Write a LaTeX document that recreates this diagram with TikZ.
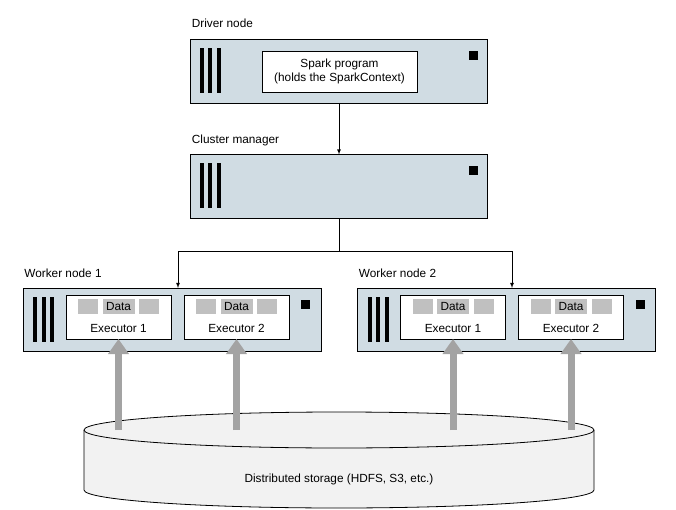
\documentclass[tikz,border=0pt]{standalone}
\usepackage{fontspec}
\setmainfont{Liberation Sans}
\usetikzlibrary{shapes,arrows,arrows.meta,calc,positioning,backgrounds}
\definecolor{boxblue}{RGB}{208,220,227}
\definecolor{datagray}{RGB}{192,192,192}
\definecolor{feedgray}{RGB}{163,163,163}
\definecolor{diskgray}{RGB}{242,242,242}

\begin{document}
\begin{tikzpicture}[x=1pt,y=-1pt,line width=0.8pt,
  every node/.style={font=\fontsize{11.8}{14.5}\selectfont},
  machine/.style={draw,rectangle,fill=boxblue,minimum width=297pt,minimum height=64pt,inner sep=0pt,outer sep=0pt},
  worker/.style={machine,minimum width=298pt,minimum height=63pt},
  exec/.style={draw,rectangle,fill=white,minimum width=105pt,minimum height=44pt,inner sep=0pt,outer sep=0pt},
  chip/.style={fill=datagray,minimum width=20pt,minimum height=15pt,inner sep=0pt,outer sep=0pt,node distance=4.5pt},
  lbl/.style={anchor=base west,inner sep=0pt},
  feed/.style={draw=feedgray,line width=7pt,-{Triangle[width=20pt,length=15pt]}}]

        \useasboundingbox (0,0) rectangle (676,510);

        \node[machine] (D) at (339,71) {};
        \node[machine] (C) at (339,186.5) {};
        \node[worker] (W1) at (172,319.5) {};
        \node[worker] (W2) at (506.5,319.5) {};

        \node[lbl] (DL) at ($(D.north west)+(1,-11)$) {Driver node};
        \node[lbl] (CL) at ($(C.north west)+(1,-11)$) {Cluster manager};
        \node[lbl] (W1L) at ($(W1.north west)+(1,-11)$) {Worker node 1};
        \node[lbl] (W2L) at ($(W2.north west)+(1,-11)$) {Worker node 2};

        \node[draw,fill=white,minimum width=155pt,minimum height=41pt,inner sep=0pt,align=center] (P) at (339.5,71.5)
          {Spark program\\(holds the SparkContext)};

        % rack bars and status light
        \foreach \m/\dx in {D/9,C/9,W1/10,W2/10} {
          \foreach \i in {0,1,2}
            \fill ($(\m.north west)+(\dx+8.5*\i,9)$) rectangle ++(4,45);
          \fill ($(\m.north east)+(-\dx-10,12)$) rectangle ++(9,9);
        }

        \node[exec] (E11) at ($(W1.west)+(95.5,-2.5)$) {};
        \node[exec] (E12) [right = 13pt of E11] {};
        \node[exec] (E21) at ($(W2.west)+(95.5,-2.5)$) {};
        \node[exec] (E22) [right = 13pt of E21] {};

        \foreach \e/\n in {11/1,12/2,21/1,22/2} {
          \node[chip,minimum width=32pt] (D\e) at ($(E\e.north)+(0,11.5)$) {Data};
          \node[chip] (L\e) [left = of D\e] {};
          \node[chip] (R\e) [right = of D\e] {};
          \node[anchor=base,inner sep=0pt] (X\e) at ($(E\e.south)+(0,-6.5)$) {Executor \n};
        }

        \coordinate (J) at ($(C.south)+(0,33)$);
        \coordinate (T1) at ($(W1.north)+(6,0)$);
        \coordinate (T2) at ($(W2.north)+(5.5,0)$);
        \draw[-latex] (D.south) -- (C.north);
        \draw (C.south) -- (J);
        \draw[-latex] (J) -| (T1);
        \draw[-latex] (J) -| (T2);

        % storage disk
        \coordinate (ST) at (339,430);
        \coordinate (SB) at (339,490);
        \filldraw[fill=diskgray] ($(ST)+(-255,0)$) arc[start angle=180,end angle=360,x radius=255,y radius=18]
          -- ($(SB)+(255,0)$) arc[start angle=0,end angle=180,x radius=255,y radius=18] -- cycle;
        \draw ($(ST)+(-255,0)$) arc[start angle=180,end angle=0,x radius=255,y radius=18];
        \node (S) at (339,479) {Distributed storage (HDFS, S3, etc.)};

        \foreach \e in {11,12,21,22} {
          \coordinate (F\e) at (E\e.south |- ST);
          \draw[feed] (F\e) -- (E\e.south);
        }
      \end{tikzpicture}
\end{document}
